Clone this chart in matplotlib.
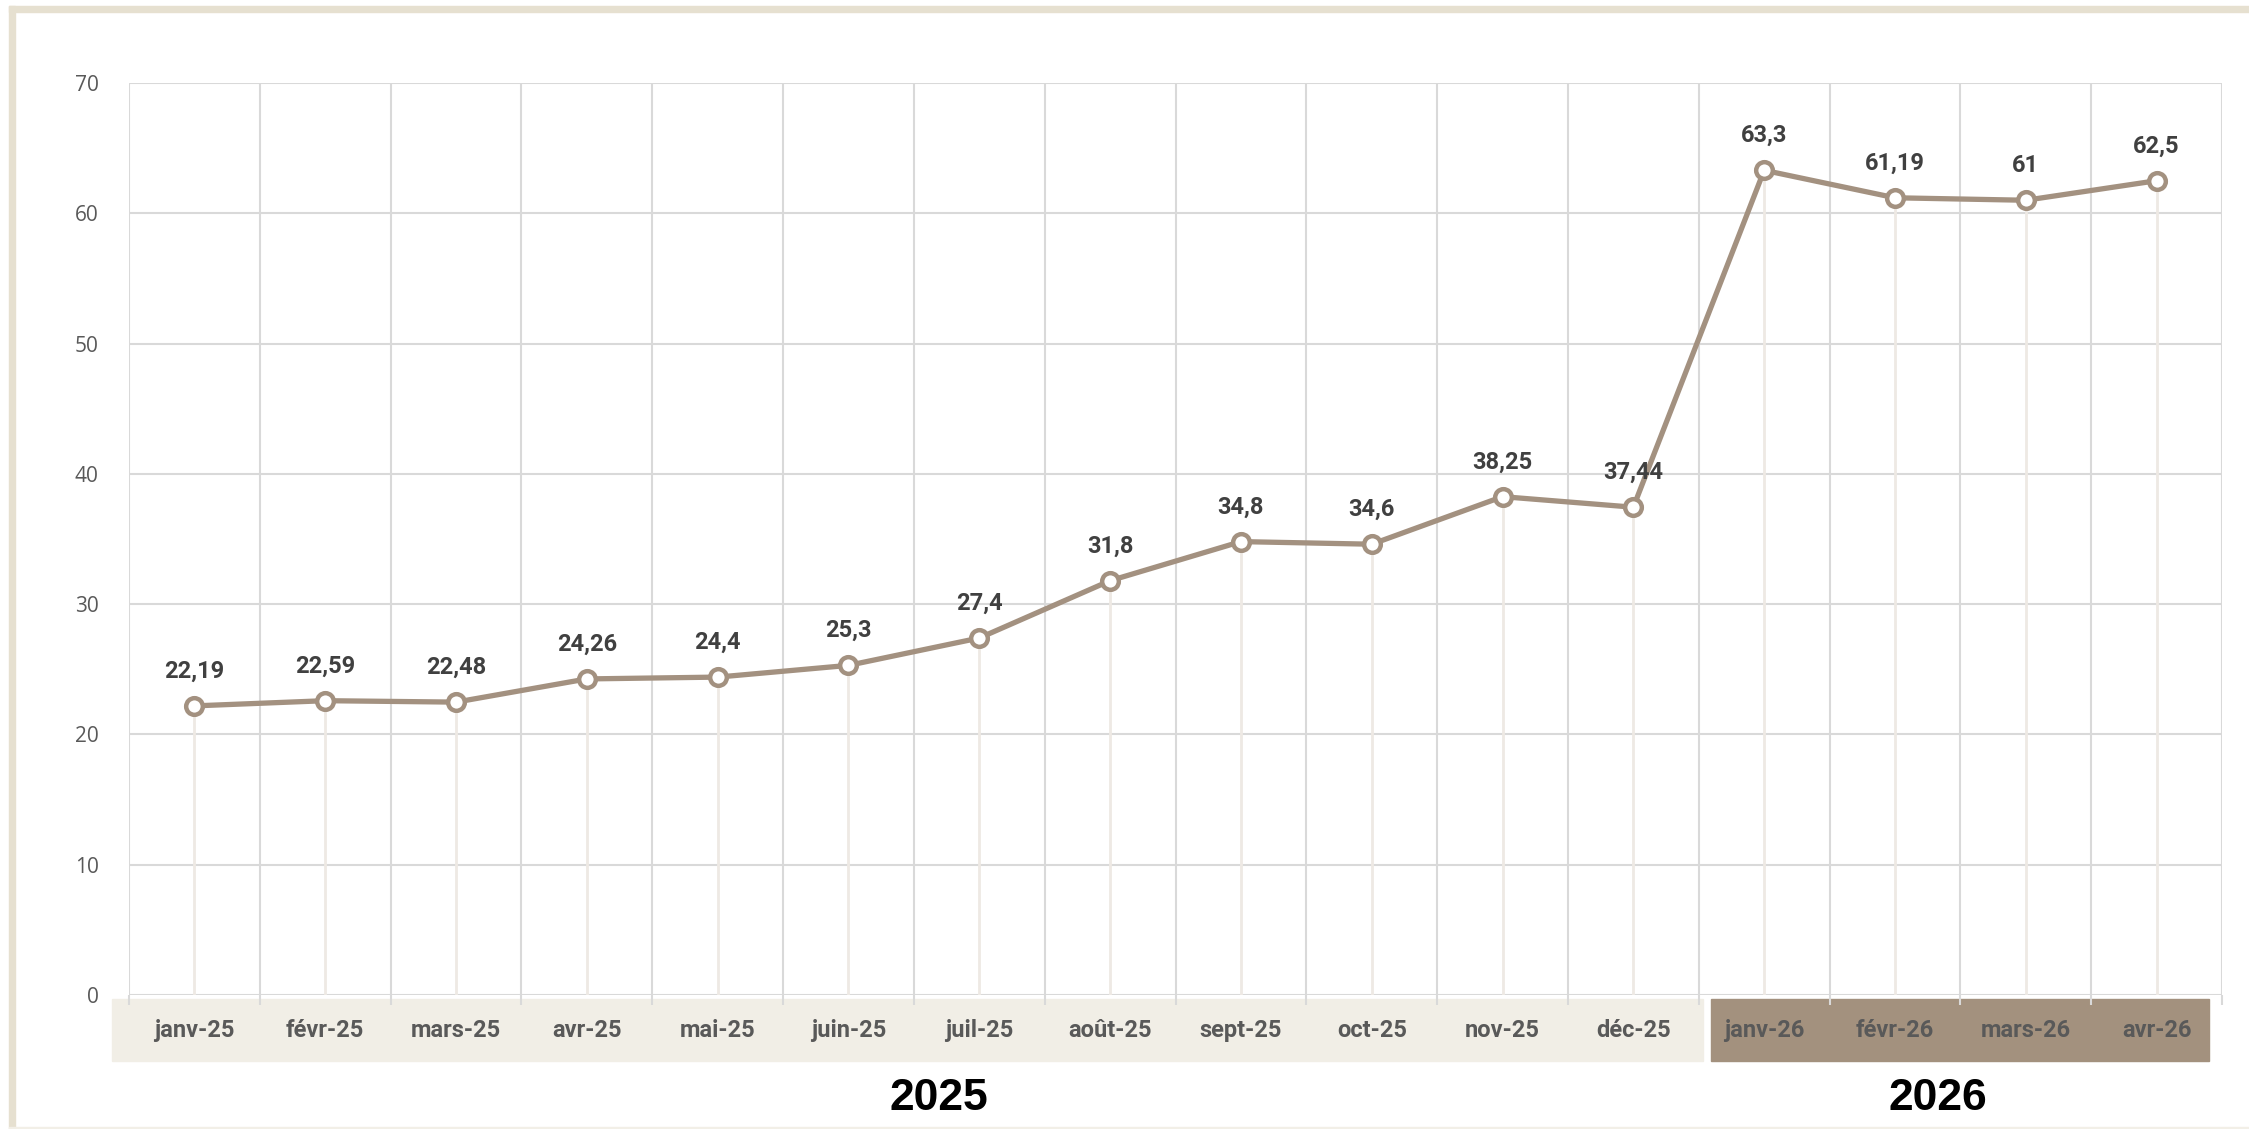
import matplotlib.pyplot as plt
from matplotlib.patches import Rectangle
from matplotlib.ticker import MultipleLocator

months = ["janv-25", "févr-25", "mars-25", "avr-25", "mai-25", "juin-25",
          "juil-25", "août-25", "sept-25", "oct-25", "nov-25", "déc-25",
          "janv-26", "févr-26", "mars-26", "avr-26"]
values = [22.19, 22.59, 22.48, 24.26, 24.4, 25.3, 27.4, 31.8, 34.8, 34.6,
          38.25, 37.44, 63.3, 61.19, 61, 62.5]
years = ["2025", "2026"]

LINE = "#A39180"
BAND_LIGHT = "#F1EEE6"
BAND_DARK = "#A3917E"
FRAME = "#E6E0D0"
GRID = "#D9D9D9"
TXT = "#595959"

narrow = ["Liberation Sans Narrow", "Roboto", "DejaVu Sans"]


def fmt(v):
    s = ("%.2f" % v).rstrip("0").rstrip(".")
    return s.replace(".", ",")


fig = plt.figure(figsize=(22.49, 11.29), dpi=100)
fig.patch.set_facecolor("white")

# beige frame on left and top, thin line at the bottom
fig.patches.append(Rectangle((9 / 2249, 0), 6 / 2249, 1 - 6 / 1129,
                             transform=fig.transFigure, color=FRAME, zorder=0))
fig.patches.append(Rectangle((9 / 2249, 1 - 12 / 1129), 1, 6 / 1129,
                             transform=fig.transFigure, color=FRAME, zorder=0))
fig.patches.append(Rectangle((9 / 2249, 0), 1, 2 / 1129,
                             transform=fig.transFigure, color="#F2EFE7", zorder=0))

ax = fig.add_axes([129 / 2249, 134 / 1129, (2222 - 129) / 2249, (995 - 83) / 1129])
n = len(months)
x = list(range(n))

ax.set_xlim(-0.5, n - 0.5)
ax.set_ylim(0, 70)
ax.yaxis.set_major_locator(MultipleLocator(10))
ax.set_xticks([i - 0.5 for i in range(n + 1)])
ax.set_xticklabels([])
ax.tick_params(axis="x", length=7, width=1.5, color=GRID)
ax.tick_params(axis="y", length=0, labelsize=15, labelcolor=TXT, pad=22)
for lab in ax.get_yticklabels():
    lab.set_family(["Open Sans", "DejaVu Sans"])

ax.grid(True, color=GRID, linewidth=1.5)
ax.set_axisbelow(True)
for sp in ax.spines.values():
    sp.set_visible(False)

# drop lines from each point to the axis
ax.vlines(x, 0, values, color="#EEE9E4", linewidth=2, zorder=1)

ax.plot(x, values, color=LINE, linewidth=3.8, marker="o", markersize=12,
        markerfacecolor="white", markeredgecolor=LINE, markeredgewidth=3.2,
        zorder=3)

for xi, v in zip(x, values):
    ax.annotate(fmt(v), (xi, v), xytext=(0, 25), textcoords="offset points",
                ha="center", va="center", fontsize=17, fontweight="bold",
                color="#404040", family=narrow, zorder=4)

# category bands under the axis
band_y0, band_h = -0.0726, 0.068
ax.add_patch(Rectangle((-0.63, band_y0), 11.53 + 0.63, band_h,
                       transform=ax.get_xaxis_transform(), color=BAND_LIGHT,
                       clip_on=False, zorder=0))
ax.add_patch(Rectangle((11.59, band_y0), 15.40 - 11.59, band_h,
                       transform=ax.get_xaxis_transform(), color=BAND_DARK,
                       clip_on=False, zorder=0))

for xi, m in zip(x, months):
    ax.text(xi, -0.039, m, transform=ax.get_xaxis_transform(), ha="center",
            va="center", fontsize=17, fontweight="bold", color=TXT,
            family=narrow)

for xc, yr in zip([5.69, 13.33], years):
    ax.text(xc, -0.114, yr, transform=ax.get_xaxis_transform(), ha="center",
            va="center", fontsize=32, fontweight="bold", color="black",
            family=["Liberation Sans", "DejaVu Sans"])

fig.savefig("out.png", dpi=100)
